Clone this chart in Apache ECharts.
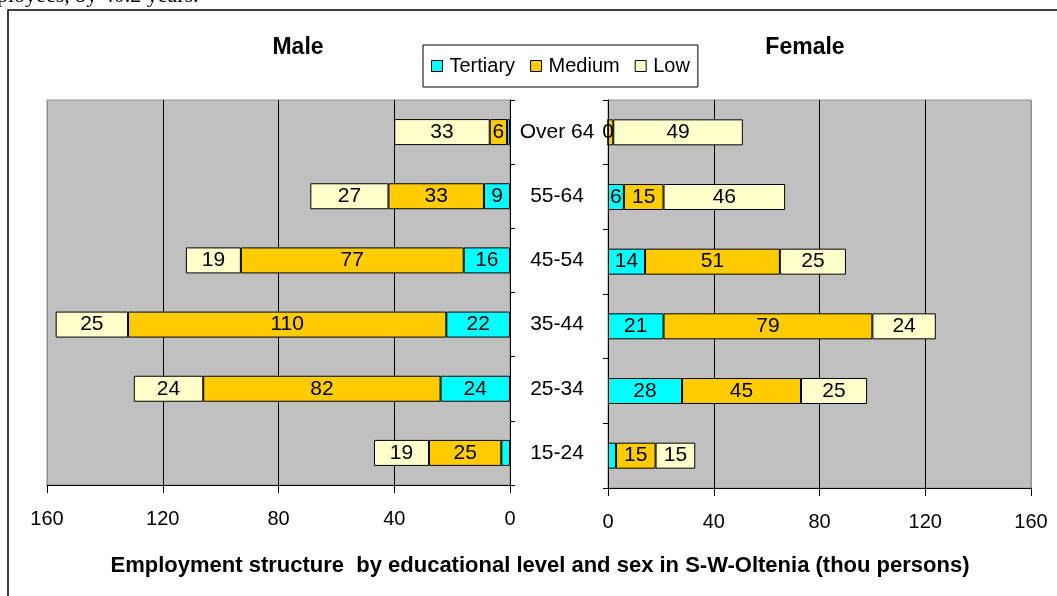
<!DOCTYPE html>
<html>
<head>
<meta charset="utf-8">
<script src="https://cdn.jsdelivr.net/npm/echarts@6/dist/echarts.min.js"></script>
<style>
html,body{margin:0;padding:0;background:#fff;}
#c{width:1057px;height:596px;}
</style>
</head>
<body>
<div id="c"></div>
<script>
// Categories, bottom to top
var ageGroups = ['15-24', '25-34', '35-44', '45-54', '55-64', 'Over 64'];
var levels = ['Tertiary', 'Medium', 'Low'];
// Male values (thou persons)
var maleTertiary = [3, 24, 22, 16, 9, 1];
var maleMedium   = [25, 82, 110, 77, 33, 6];
var maleLow      = [19, 24, 25, 19, 27, 33];
// Female values (thou persons)
var femaleTertiary = [3, 28, 21, 14, 6, 0];
var femaleMedium   = [15, 45, 79, 51, 15, 2];
var femaleLow      = [15, 25, 24, 25, 46, 49];
var xTicks = [0, 40, 80, 120, 160];

var colors = {Tertiary: '#00FFFF', Medium: '#FFCC00', Low: '#FFFFCC'};
var SANS = '"Liberation Sans", Arial, sans-serif';

function mkSeries(name, data, gi, stack) {
  return {
    name: name, type: 'bar', stack: stack,
    xAxisIndex: gi, yAxisIndex: gi,
    data: data, barWidth: 26,
    itemStyle: {color: colors[name], borderColor: '#000', borderWidth: 1},
    label: {
      show: true, position: 'inside', color: '#000',
      fontFamily: SANS, fontSize: 21,
      formatter: function (p) { return (p.value >= 5 || p.value === 0) ? String(p.value) : ''; }
    },
    emphasis: {disabled: true}, animation: false
  };
}

function xAx(gi, inverse) {
  return {
    type: 'value', gridIndex: gi, min: 0, max: 160, interval: 40, inverse: inverse,
    axisLine: {show: true, lineStyle: {color: '#000', width: 1}},
    axisTick: {show: true, length: 8, lineStyle: {color: '#000'}},
    axisLabel: {color: '#000', fontFamily: SANS, fontSize: 20, margin: 24,
      formatter: function (v) { return xTicks.indexOf(v) >= 0 ? String(v) : ''; }},
    splitLine: {show: true, lineStyle: {color: ['#000', '#000', '#000', '#000', '#909090'], width: 1}}
  };
}

var chart = echarts.init(document.getElementById('c'));
chart.setOption({
  animation: false,
  backgroundColor: '#fff',
  title: [
    {text: 'Male', left: 293, top: 31, textAlign: 'center',
     textStyle: {fontFamily: SANS, fontWeight: 'bold', fontSize: 23, color: '#000'}},
    {text: 'Female', left: 800, top: 31, textAlign: 'center',
     textStyle: {fontFamily: SANS, fontWeight: 'bold', fontSize: 23, color: '#000'}},
    {text: 'Employment structure  by educational level and sex in S-W-Oltenia (thou persons)',
     left: 535, top: 550, textAlign: 'center',
     textStyle: {fontFamily: SANS, fontWeight: 'bold', fontSize: 22, color: '#000'}}
  ],
  legend: {
    data: levels, left: 423, top: 45,
    orient: 'horizontal',
    backgroundColor: '#fff', borderColor: '#000', borderWidth: 1,
    padding: [11, 8, 11, 8],
    itemWidth: 11, itemHeight: 11, itemGap: 15,
    icon: 'rect',
    itemStyle: {borderColor: '#000', borderWidth: 1},
    textStyle: {fontFamily: SANS, fontSize: 20, color: '#000', padding: [0, 0, 0, 2]},
    selectedMode: false
  },
  grid: [
    {left: 47, right: 1057 - 510, top: 100, bottom: 596 - 485, show: true,
     backgroundColor: '#C0C0C0', borderColor: '#909090', borderWidth: 1},
    {left: 608, right: 1057 - 1031, top: 100, bottom: 596 - 488, show: true,
     backgroundColor: '#C0C0C0', borderColor: '#909090', borderWidth: 1}
  ],
  xAxis: [xAx(0, true), xAx(1, false)],
  yAxis: [
    {type: 'category', gridIndex: 0, data: ageGroups, position: 'right',
     axisLine: {show: true, lineStyle: {color: '#000'}},
     axisTick: {show: true, length: 5, interval: 0, lineStyle: {color: '#000'}},
     axisLabel: {show: true, interval: 0, align: 'center', margin: 47,
       color: '#000', fontFamily: SANS, fontSize: 21},
     splitLine: {show: false}},
    {type: 'category', gridIndex: 1, data: ageGroups, position: 'left',
     axisLine: {show: true, lineStyle: {color: '#000'}},
     axisTick: {show: true, length: 5, interval: 0, lineStyle: {color: '#000'}},
     axisLabel: {show: false},
     splitLine: {show: false}}
  ],
  graphic: [
    {type: 'rect', shape: {x: 8, y: 10, width: 1070, height: 610},
     style: {fill: 'none', stroke: '#000', lineWidth: 1.5}, z: -1},
    {type: 'text', left: -3, top: -15,
     style: {text: 'ployees, by 40.2 years.', font: '22px "Liberation Serif", "Times New Roman", serif', fill: '#000'}}
  ],
  series: [
    mkSeries('Tertiary', maleTertiary, 0, 'm'),
    mkSeries('Medium', maleMedium, 0, 'm'),
    mkSeries('Low', maleLow, 0, 'm'),
    mkSeries('Tertiary', femaleTertiary, 1, 'f'),
    mkSeries('Medium', femaleMedium, 1, 'f'),
    mkSeries('Low', femaleLow, 1, 'f')
  ]
});
</script>
</body>
</html>
